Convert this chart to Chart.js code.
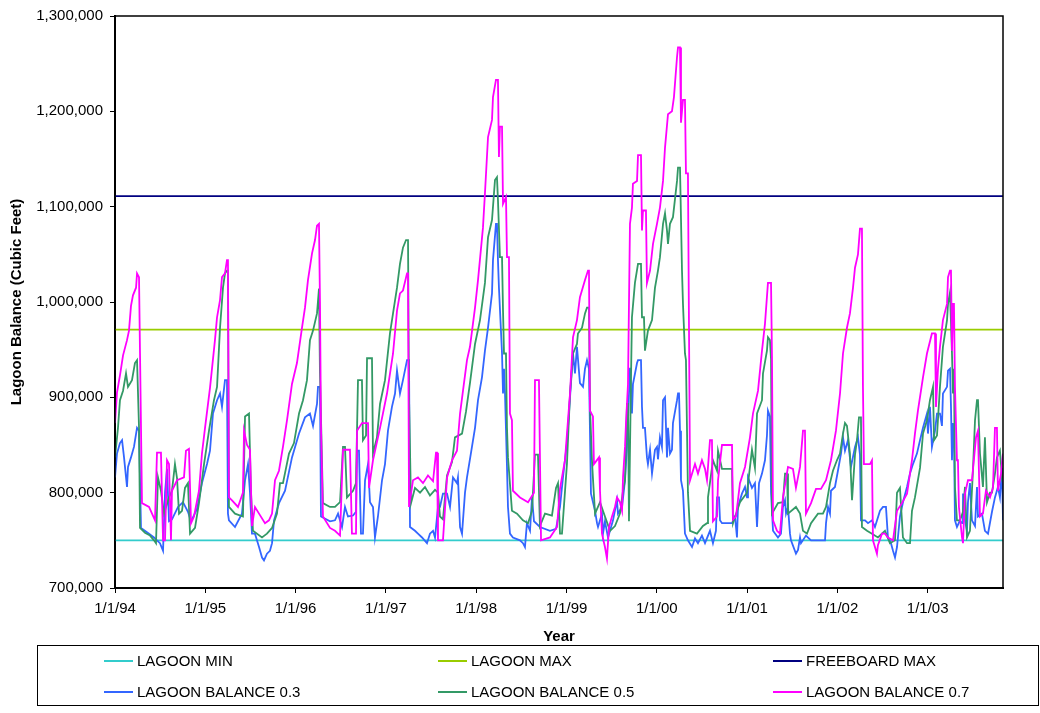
<!DOCTYPE html>
<html><head><meta charset="utf-8">
<script src="https://cdn.jsdelivr.net/npm/chart.js@4.4.1/dist/chart.umd.min.js"></script>
<style>
html,body{margin:0;padding:0;background:#fff;}
#wrap{position:relative;width:1040px;height:713px;overflow:hidden;}
#c{position:absolute;left:0;top:0;}
#legend{position:absolute;left:37px;top:645px;width:1000px;height:59px;border:1px solid #000;font-family:'Liberation Sans',Arial,sans-serif;font-size:15px;color:#000;}
.item{position:absolute;height:18px;line-height:18px;white-space:nowrap;}
.swatch{position:absolute;top:8px;left:0;width:29px;height:2px;}
.label{position:absolute;left:33px;top:0;}
</style>
</head><body>
<div id="wrap"><canvas id="c" width="1040" height="713"></canvas><div id="legend"></div></div>
<script>
// ---- data (x = decimal year, y = cubic feet) ----
const seriesNames = ['LAGOON MIN','LAGOON MAX','FREEBOARD MAX','LAGOON BALANCE 0.3','LAGOON BALANCE 0.5','LAGOON BALANCE 0.7'];
const seriesColors = ['#33CCCC','#99CC00','#000080','#3366FF','#339966','#FF00FF'];
const yearTicks = [1994,1995,1996,1997,1998,1999,2000,2001,2002,2003];
const yearLabels = ['1/1/94','1/1/95','1/1/96','1/1/97','1/1/98','1/1/99','1/1/00','1/1/01','1/1/02','1/1/03'];
const xStart = 1994.000, xEnd = 2003.834;
const lagoonMin = 750000;
const lagoonMax = 971000;
const freeboardMax = 1111000;

const balance07 = [[1994.000,873000],[1994.022,905000],[1994.055,923000],[1994.089,944000],[1994.133,960000],[1994.155,970000],[1994.177,996000],[1994.199,1007000],[1994.233,1015000],[1994.244,1030000],[1994.266,1026000],[1994.277,946000],[1994.299,789000],[1994.377,785000],[1994.410,778000],[1994.443,771000],[1994.465,842000],[1994.509,842000],[1994.532,750000],[1994.554,750000],[1994.576,834000],[1994.598,830000],[1994.620,750000],[1994.631,802000],[1994.687,813000],[1994.764,816000],[1994.786,844000],[1994.819,846000],[1994.842,768000],[1994.875,775000],[1994.930,802000],[1994.963,841000],[1994.997,868000],[1995.052,910000],[1995.107,960000],[1995.130,984000],[1995.163,1002000],[1995.185,1026000],[1995.218,1030000],[1995.240,1044000],[1995.251,1044000],[1995.262,795000],[1995.296,792000],[1995.362,785000],[1995.417,800000],[1995.429,865000],[1995.462,850000],[1995.495,845000],[1995.517,765000],[1995.550,785000],[1995.595,778000],[1995.661,768000],[1995.705,771000],[1995.739,778000],[1995.772,813000],[1995.816,823000],[1995.860,848000],[1995.905,876000],[1995.960,914000],[1996.015,936000],[1996.071,973000],[1996.104,994000],[1996.137,1023000],[1996.182,1051000],[1996.215,1065000],[1996.237,1080000],[1996.259,1082000],[1996.270,1000000],[1996.281,870000],[1996.303,775000],[1996.381,763000],[1996.436,760000],[1996.492,755000],[1996.525,845000],[1996.602,845000],[1996.624,757000],[1996.669,757000],[1996.680,865000],[1996.735,873000],[1996.802,873000],[1996.813,805000],[1996.857,834000],[1996.935,868000],[1997.012,904000],[1997.079,946000],[1997.123,991000],[1997.156,1009000],[1997.189,1012000],[1997.234,1030000],[1997.245,1030000],[1997.256,785000],[1997.300,813000],[1997.355,816000],[1997.411,810000],[1997.466,818000],[1997.522,812000],[1997.555,842000],[1997.566,842000],[1997.577,750000],[1997.632,750000],[1997.677,816000],[1997.732,834000],[1997.787,844000],[1997.821,883000],[1997.854,907000],[1997.898,939000],[1997.931,953000],[1997.987,994000],[1998.020,1023000],[1998.075,1078000],[1998.097,1114000],[1998.131,1173000],[1998.175,1191000],[1998.186,1215000],[1998.219,1233000],[1998.241,1233000],[1998.252,1152000],[1998.263,1184000],[1998.286,1184000],[1998.297,1103000],[1998.330,1110000],[1998.341,1047000],[1998.363,1047000],[1998.374,883000],[1998.396,876000],[1998.407,802000],[1998.485,795000],[1998.574,790000],[1998.640,800000],[1998.651,918000],[1998.695,918000],[1998.718,750000],[1998.817,753000],[1998.895,764000],[1998.928,804000],[1998.983,834000],[1999.039,904000],[1999.072,963000],[1999.116,981000],[1999.149,1005000],[1999.205,1023000],[1999.238,1033000],[1999.249,1033000],[1999.260,886000],[1999.293,880000],[1999.304,830000],[1999.360,837000],[1999.371,802000],[1999.393,757000],[1999.426,743000],[1999.448,731000],[1999.471,764000],[1999.504,775000],[1999.537,785000],[1999.559,795000],[1999.592,790000],[1999.615,781000],[1999.626,816000],[1999.648,848000],[1999.659,873000],[1999.681,914000],[1999.703,1082000],[1999.725,1099000],[1999.736,1124000],[1999.781,1127000],[1999.792,1154000],[1999.825,1154000],[1999.836,1075000],[1999.847,1096000],[1999.880,1096000],[1999.891,1020000],[1999.925,1033000],[1999.958,1061000],[2000.002,1082000],[2000.035,1099000],[2000.069,1127000],[2000.091,1162000],[2000.124,1197000],[2000.168,1200000],[2000.190,1215000],[2000.224,1257000],[2000.235,1267000],[2000.257,1267000],[2000.268,1188000],[2000.290,1212000],[2000.312,1212000],[2000.323,1135000],[2000.345,1135000],[2000.368,813000],[2000.423,830000],[2000.456,820000],[2000.500,834000],[2000.534,825000],[2000.556,813000],[2000.589,855000],[2000.611,855000],[2000.622,770000],[2000.667,775000],[2000.678,813000],[2000.722,850000],[2000.833,850000],[2000.844,772000],[2000.877,775000],[2000.921,810000],[2000.977,827000],[2001.032,858000],[2001.065,883000],[2001.121,907000],[2001.165,949000],[2001.198,977000],[2001.231,1020000],[2001.265,1020000],[2001.276,940000],[2001.287,771000],[2001.331,760000],[2001.364,757000],[2001.397,795000],[2001.453,827000],[2001.508,825000],[2001.541,805000],[2001.586,827000],[2001.619,865000],[2001.641,865000],[2001.652,778000],[2001.708,789000],[2001.763,804000],[2001.818,804000],[2001.874,813000],[2001.929,834000],[2001.984,865000],[2002.029,904000],[2002.062,946000],[2002.106,973000],[2002.139,988000],[2002.173,1015000],[2002.195,1036000],[2002.228,1050000],[2002.250,1077000],[2002.272,1077000],[2002.283,911000],[2002.294,830000],[2002.361,830000],[2002.383,834000],[2002.394,750000],[2002.438,736000],[2002.449,745000],[2002.494,757000],[2002.527,757000],[2002.560,753000],[2002.616,750000],[2002.660,781000],[2002.715,789000],[2002.771,799000],[2002.826,834000],[2002.859,862000],[2002.892,886000],[2002.948,921000],[2002.992,946000],[2003.047,967000],[2003.081,967000],[2003.092,890000],[2003.114,930000],[2003.136,953000],[2003.169,981000],[2003.214,998000],[2003.225,1026000],[2003.247,1033000],[2003.258,1033000],[2003.269,949000],[2003.280,998000],[2003.291,998000],[2003.302,911000],[2003.324,834000],[2003.335,834000],[2003.346,785000],[2003.380,753000],[2003.391,747000],[2003.413,799000],[2003.446,813000],[2003.490,813000],[2003.535,858000],[2003.557,865000],[2003.579,775000],[2003.612,778000],[2003.645,802000],[2003.690,795000],[2003.723,805000],[2003.745,868000],[2003.767,868000],[2003.778,802000],[2003.812,820000],[2003.834,841000]];

const balance05 = [[1994.000,837000],[1994.033,868000],[1994.055,897000],[1994.089,907000],[1994.122,925000],[1994.144,911000],[1994.188,918000],[1994.221,936000],[1994.244,939000],[1994.266,868000],[1994.277,763000],[1994.332,758000],[1994.388,755000],[1994.432,750000],[1994.454,747000],[1994.476,816000],[1994.509,802000],[1994.543,778000],[1994.598,795000],[1994.631,802000],[1994.664,830000],[1994.687,815000],[1994.709,778000],[1994.742,781000],[1994.775,805000],[1994.808,810000],[1994.831,757000],[1994.886,763000],[1994.930,789000],[1994.986,830000],[1995.041,865000],[1995.096,897000],[1995.130,911000],[1995.163,973000],[1995.196,1015000],[1995.218,1030000],[1995.240,1033000],[1995.251,1033000],[1995.262,785000],[1995.329,778000],[1995.417,775000],[1995.440,880000],[1995.484,883000],[1995.506,800000],[1995.528,760000],[1995.628,753000],[1995.683,757000],[1995.739,763000],[1995.794,778000],[1995.827,810000],[1995.860,810000],[1995.927,841000],[1995.982,852000],[1996.038,883000],[1996.082,897000],[1996.126,918000],[1996.159,960000],[1996.193,970000],[1996.237,988000],[1996.259,1014000],[1996.270,925000],[1996.303,789000],[1996.381,785000],[1996.436,785000],[1996.492,790000],[1996.525,848000],[1996.547,848000],[1996.569,795000],[1996.636,802000],[1996.669,810000],[1996.691,918000],[1996.735,918000],[1996.746,855000],[1996.780,860000],[1996.791,941000],[1996.846,941000],[1996.857,841000],[1996.901,858000],[1996.935,893000],[1996.990,918000],[1997.045,967000],[1997.079,988000],[1997.123,1015000],[1997.156,1040000],[1997.189,1057000],[1997.223,1065000],[1997.245,1065000],[1997.256,900000],[1997.278,789000],[1997.322,805000],[1997.378,800000],[1997.433,806000],[1997.488,797000],[1997.544,803000],[1997.577,800000],[1997.599,775000],[1997.632,772000],[1997.677,818000],[1997.732,832000],[1997.765,858000],[1997.843,862000],[1997.887,885000],[1997.931,915000],[1997.987,956000],[1998.042,981000],[1998.097,1020000],[1998.131,1068000],[1998.175,1086000],[1998.208,1128000],[1998.230,1131000],[1998.241,1107000],[1998.263,1047000],[1998.286,1047000],[1998.297,991000],[1998.308,946000],[1998.330,946000],[1998.341,868000],[1998.352,837000],[1998.396,781000],[1998.452,778000],[1998.518,771000],[1998.574,768000],[1998.618,781000],[1998.651,840000],[1998.684,840000],[1998.706,765000],[1998.762,778000],[1998.839,776000],[1998.884,805000],[1998.906,810000],[1998.928,757000],[1998.950,757000],[1999.005,830000],[1999.039,904000],[1999.072,946000],[1999.116,956000],[1999.127,967000],[1999.172,973000],[1999.205,988000],[1999.227,994000],[1999.249,994000],[1999.260,890000],[1999.282,834000],[1999.293,815000],[1999.316,778000],[1999.371,790000],[1999.426,775000],[1999.482,760000],[1999.537,765000],[1999.592,778000],[1999.626,802000],[1999.648,813000],[1999.670,893000],[1999.681,893000],[1999.692,770000],[1999.714,918000],[1999.725,984000],[1999.758,1020000],[1999.792,1040000],[1999.825,1040000],[1999.836,984000],[1999.858,984000],[1999.869,949000],[1999.902,970000],[1999.947,981000],[1999.980,1015000],[2000.013,1033000],[2000.035,1047000],[2000.069,1082000],[2000.091,1093000],[2000.113,1075000],[2000.124,1061000],[2000.146,1082000],[2000.179,1089000],[2000.224,1127000],[2000.235,1141000],[2000.257,1141000],[2000.279,1033000],[2000.290,998000],[2000.312,946000],[2000.323,939000],[2000.345,800000],[2000.368,760000],[2000.445,757000],[2000.511,765000],[2000.556,768000],[2000.567,795000],[2000.622,834000],[2000.667,823000],[2000.678,844000],[2000.722,825000],[2000.833,825000],[2000.844,768000],[2000.921,790000],[2000.999,800000],[2001.054,845000],[2001.087,826000],[2001.110,883000],[2001.165,897000],[2001.176,925000],[2001.220,949000],[2001.231,963000],[2001.253,960000],[2001.265,940000],[2001.276,778000],[2001.342,789000],[2001.397,790000],[2001.420,820000],[2001.442,820000],[2001.453,778000],[2001.541,785000],[2001.586,778000],[2001.619,760000],[2001.663,757000],[2001.708,768000],[2001.785,778000],[2001.840,778000],[2001.874,785000],[2001.918,810000],[2001.951,823000],[2001.995,834000],[2002.029,841000],[2002.062,862000],[2002.084,873000],[2002.106,870000],[2002.139,841000],[2002.162,792000],[2002.195,840000],[2002.217,855000],[2002.239,879000],[2002.261,879000],[2002.272,764000],[2002.328,760000],[2002.383,757000],[2002.449,753000],[2002.527,760000],[2002.582,747000],[2002.638,750000],[2002.660,800000],[2002.693,805000],[2002.726,753000],[2002.771,747000],[2002.804,747000],[2002.826,781000],[2002.859,795000],[2002.915,826000],[2002.948,862000],[2002.992,876000],[2003.025,897000],[2003.059,911000],[2003.070,855000],[2003.103,860000],[2003.136,911000],[2003.169,953000],[2003.214,981000],[2003.225,998000],[2003.247,1010000],[2003.269,946000],[2003.280,904000],[2003.291,930000],[2003.302,806000],[2003.324,771000],[2003.358,771000],[2003.391,780000],[2003.413,806000],[2003.435,753000],[2003.468,760000],[2003.501,823000],[2003.524,876000],[2003.546,897000],[2003.557,897000],[2003.579,841000],[2003.612,806000],[2003.634,858000],[2003.657,790000],[2003.690,800000],[2003.712,800000],[2003.745,820000],[2003.767,837000],[2003.800,844000],[2003.823,816000],[2003.834,820000]];

const balance03 = [[1994.000,816000],[1994.022,841000],[1994.055,852000],[1994.078,855000],[1994.100,837000],[1994.133,806000],[1994.144,827000],[1994.177,837000],[1994.210,848000],[1994.244,868000],[1994.266,865000],[1994.288,763000],[1994.377,757000],[1994.432,753000],[1994.465,750000],[1994.498,747000],[1994.532,739000],[1994.554,800000],[1994.576,825000],[1994.598,770000],[1994.631,772000],[1994.698,785000],[1994.753,790000],[1994.808,780000],[1994.842,770000],[1994.908,783000],[1994.963,810000],[1995.019,830000],[1995.052,844000],[1995.085,883000],[1995.130,897000],[1995.163,904000],[1995.185,890000],[1995.218,918000],[1995.240,918000],[1995.251,778000],[1995.262,771000],[1995.329,764000],[1995.406,778000],[1995.440,813000],[1995.473,830000],[1995.495,800000],[1995.517,757000],[1995.550,757000],[1995.595,743000],[1995.628,732000],[1995.650,729000],[1995.683,736000],[1995.716,739000],[1995.739,747000],[1995.761,771000],[1995.816,789000],[1995.883,802000],[1995.960,837000],[1996.038,862000],[1996.104,879000],[1996.159,883000],[1996.193,870000],[1996.237,893000],[1996.248,911000],[1996.270,911000],[1996.281,775000],[1996.381,770000],[1996.436,771000],[1996.470,778000],[1996.514,764000],[1996.547,785000],[1996.580,775000],[1996.636,776000],[1996.669,780000],[1996.680,844000],[1996.702,844000],[1996.724,757000],[1996.746,757000],[1996.769,813000],[1996.802,830000],[1996.824,790000],[1996.857,785000],[1996.879,753000],[1996.912,775000],[1996.957,813000],[1996.990,830000],[1997.023,865000],[1997.067,890000],[1997.101,904000],[1997.123,928000],[1997.156,904000],[1997.189,918000],[1997.234,939000],[1997.256,939000],[1997.267,764000],[1997.322,760000],[1997.355,757000],[1997.400,753000],[1997.455,747000],[1997.488,757000],[1997.522,760000],[1997.544,753000],[1997.577,785000],[1997.599,785000],[1997.632,799000],[1997.677,799000],[1997.710,785000],[1997.743,816000],[1997.787,810000],[1997.798,816000],[1997.821,764000],[1997.843,757000],[1997.876,800000],[1997.898,816000],[1997.953,848000],[1997.987,868000],[1998.020,897000],[1998.064,921000],[1998.097,949000],[1998.131,973000],[1998.175,1009000],[1998.186,1044000],[1998.219,1082000],[1998.230,1082000],[1998.241,1044000],[1998.252,1015000],[1998.286,946000],[1998.297,904000],[1998.308,930000],[1998.319,904000],[1998.341,827000],[1998.352,785000],[1998.374,757000],[1998.407,753000],[1998.485,750000],[1998.518,747000],[1998.540,743000],[1998.562,768000],[1998.596,760000],[1998.618,795000],[1998.640,770000],[1998.706,764000],[1998.817,760000],[1998.884,762000],[1998.928,785000],[1998.961,816000],[1999.005,852000],[1999.039,900000],[1999.072,946000],[1999.094,925000],[1999.116,953000],[1999.149,915000],[1999.183,911000],[1999.205,930000],[1999.227,939000],[1999.249,930000],[1999.271,799000],[1999.316,781000],[1999.338,768000],[1999.349,764000],[1999.393,778000],[1999.404,757000],[1999.426,770000],[1999.460,753000],[1999.482,760000],[1999.515,771000],[1999.559,792000],[1999.570,778000],[1999.615,785000],[1999.648,813000],[1999.670,848000],[1999.703,931000],[1999.725,883000],[1999.736,914000],[1999.781,936000],[1999.792,939000],[1999.825,939000],[1999.836,890000],[1999.847,868000],[1999.869,868000],[1999.891,837000],[1999.902,830000],[1999.925,845000],[1999.947,820000],[1999.980,845000],[2000.002,848000],[2000.013,835000],[2000.035,858000],[2000.057,848000],[2000.069,897000],[2000.091,900000],[2000.113,837000],[2000.124,868000],[2000.146,841000],[2000.168,845000],[2000.179,873000],[2000.224,897000],[2000.235,904000],[2000.246,904000],[2000.257,865000],[2000.268,813000],[2000.290,802000],[2000.312,757000],[2000.345,750000],[2000.390,743000],[2000.423,752000],[2000.456,747000],[2000.500,755000],[2000.534,747000],[2000.589,760000],[2000.622,747000],[2000.655,760000],[2000.667,795000],[2000.689,795000],[2000.700,771000],[2000.722,768000],[2000.833,768000],[2000.866,775000],[2000.888,753000],[2000.899,785000],[2000.943,799000],[2000.977,806000],[2000.999,795000],[2001.010,816000],[2001.054,805000],[2001.087,810000],[2001.110,764000],[2001.132,810000],[2001.165,820000],[2001.198,834000],[2001.220,860000],[2001.231,886000],[2001.253,880000],[2001.265,800000],[2001.287,760000],[2001.342,753000],[2001.375,757000],[2001.397,785000],[2001.420,792000],[2001.431,778000],[2001.453,785000],[2001.475,757000],[2001.486,750000],[2001.541,736000],[2001.564,740000],[2001.586,753000],[2001.597,747000],[2001.652,755000],[2001.708,750000],[2001.785,750000],[2001.863,750000],[2001.874,768000],[2001.896,785000],[2001.918,778000],[2001.929,802000],[2001.973,806000],[2002.006,823000],[2002.040,841000],[2002.062,858000],[2002.084,844000],[2002.117,855000],[2002.150,827000],[2002.195,848000],[2002.228,858000],[2002.250,840000],[2002.261,771000],[2002.306,771000],[2002.339,768000],[2002.383,771000],[2002.416,764000],[2002.472,781000],[2002.505,785000],[2002.538,785000],[2002.560,753000],[2002.593,747000],[2002.616,739000],[2002.638,732000],[2002.660,743000],[2002.693,775000],[2002.726,790000],[2002.771,806000],[2002.804,820000],[2002.837,830000],[2002.881,841000],[2002.915,855000],[2002.948,868000],[2002.992,883000],[2003.003,862000],[2003.025,890000],[2003.047,848000],[2003.081,865000],[2003.103,883000],[2003.136,883000],[2003.158,870000],[2003.169,904000],[2003.214,911000],[2003.225,928000],[2003.247,930000],[2003.258,890000],[2003.269,834000],[2003.280,873000],[2003.291,860000],[2003.302,771000],[2003.324,764000],[2003.358,771000],[2003.380,768000],[2003.391,799000],[2003.413,771000],[2003.435,760000],[2003.446,790000],[2003.468,810000],[2003.490,771000],[2003.524,765000],[2003.546,806000],[2003.557,775000],[2003.601,778000],[2003.634,760000],[2003.668,757000],[2003.712,780000],[2003.745,795000],[2003.778,806000],[2003.800,795000],[2003.823,826000],[2003.834,771000]];

// ---- chart ----
const FONT = "'Liberation Sans', Arial, Helvetica, sans-serif";
Chart.defaults.font.family = FONT;
Chart.defaults.font.size = 15;
Chart.defaults.color = '#000';

const toXY = arr => arr.map(p => ({x: p[0], y: p[1]}));
const flat = v => [{x: xStart, y: v}, {x: xEnd, y: v}];

function lineDs(label, data, color) {
  return {label, data, borderColor: color, backgroundColor: color, borderWidth: 1.8,
    pointRadius: 0, tension: 0, fill: false, spanGaps: true};
}

const frame = {
  id: 'frame',
  afterDatasetsDraw(chart) {
    const {ctx, chartArea: a} = chart;
    ctx.save();
    ctx.strokeStyle = '#000';
    ctx.lineWidth = 1.5;
    ctx.strokeRect(a.left, a.top, a.right - a.left, a.bottom - a.top);
    ctx.restore();
  }
};

new Chart(document.getElementById('c'), {
  type: 'line',
  data: {
    datasets: [
      lineDs(seriesNames[5], toXY(balance07), seriesColors[5]),
      lineDs(seriesNames[4], toXY(balance05), seriesColors[4]),
      lineDs(seriesNames[3], toXY(balance03), seriesColors[3]),
      lineDs(seriesNames[2], flat(freeboardMax), seriesColors[2]),
      lineDs(seriesNames[1], flat(lagoonMax), seriesColors[1]),
      lineDs(seriesNames[0], flat(lagoonMin), seriesColors[0])
    ]
  },
  options: {
    responsive: false,
    animation: false,
    events: [],
    layout: {padding: {left: 0, right: 37, top: 16, bottom: 67}},
    plugins: {legend: {display: false}, tooltip: {enabled: false}},
    scales: {
      x: {
        type: 'linear', min: xStart, max: xEnd,
        afterBuildTicks: s => { s.ticks = yearTicks.map(v => ({value: v})); },
        afterFit: s => { s.height = 58; },
        ticks: {
          autoSkip: false, maxRotation: 0, padding: 7,
          callback: (v) => { const i = yearTicks.indexOf(v); return i >= 0 ? yearLabels[i] : ''; }
        },
        grid: {drawOnChartArea: false, drawTicks: true, tickLength: 5, color: '#000', lineWidth: 1},
        border: {display: true, color: '#000', width: 2},
        title: {display: true, text: 'Year', font: {size: 15, weight: 'bold'}, padding: {top: 0, bottom: 0}}
      },
      y: {
        type: 'linear', min: 700000, max: 1300000,
        afterFit: s => { s.width = 115; },
        ticks: {stepSize: 100000, padding: 7, callback: v => Number(v).toLocaleString('en-US')},
        grid: {drawOnChartArea: false, drawTicks: true, tickLength: 5, color: '#000', lineWidth: 1},
        border: {display: true, color: '#000', width: 2},
        title: {display: true, text: 'Lagoon Balance (Cubic Feet)', font: {size: 15, weight: 'bold'}, padding: {top: 8, bottom: 0}}
      }
    }
  },
  plugins: [frame]
});

// ---- legend (3 columns x 2 rows) ----
const legendCols = [66, 400, 735];
const legendRows = [6, 37];
const lg = document.getElementById('legend');
seriesNames.forEach((name, i) => {
  const it = document.createElement('div');
  it.className = 'item';
  it.style.left = legendCols[i % 3] + 'px';
  it.style.top = legendRows[Math.floor(i / 3)] + 'px';
  it.innerHTML = '<div class="swatch" style="background:' + seriesColors[i] + '"></div><span class="label">' + name + '</span>';
  lg.appendChild(it);
});
</script>
</body></html>
